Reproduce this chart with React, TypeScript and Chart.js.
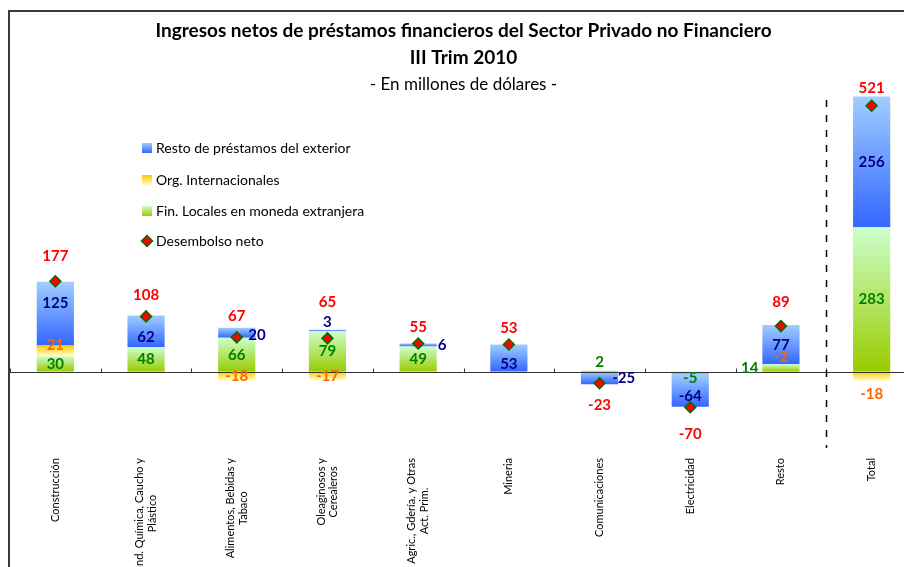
import React, { useEffect, useRef } from "react";
import { Chart, registerables } from "chart.js";

Chart.register(...registerables);

// ---------------- DATA ----------------
const categories: (string | string[])[] = [
  "Construcción",
  ["Ind. Química, Caucho y", "Plástico"],
  ["Alimentos, Bebidas y", "Tabaco"],
  ["Oleaginosos y", "Cerealeros"],
  ["Agric., Gdería. y Otras", "Act. Prim."],
  "Mineria",
  "Comunicaciones",
  "Electricidad",
  "Resto",
  "Total",
];

const finLocales: (number | null)[] = [30, 48, 66, 79, 49, null, 2, -5, 14, 283];
const orgInternacionales: (number | null)[] = [21, -2, -18, -17, null, null, null, null, -2, -18];
const restoExterior: (number | null)[] = [125, 62, 20, 3, 6, 53, -25, -64, 77, 256];
const desembolsoNeto: number[] = [177, 108, 67, 65, 55, 53, -23, -70, 89, 521];

const seriesNames = [
  "Fin. Locales en moneda extranjera",
  "Org. Internacionales",
  "Resto de préstamos del exterior",
  "Desembolso neto",
];

const titleLines = [
  "Ingresos netos de préstamos financieros del Sector Privado no Financiero",
  "III Trim 2010",
];
const subtitleText = "- En millones de dólares -";

// ---------------- STYLE ----------------
const FONT = "Lato, 'Open Sans', sans-serif";
const GRADS: string[][] = [
  ["#ccffcc", "#99cc00"], // green
  ["#ffc800", "#ffffc8"], // yellow
  ["#a0ceff", "#3366ff"], // blue
];
const LABEL_COLORS = ["#008000", "#ff6600", "#000080"];
const NET_COLOR = "#ff0000";

// label placement tweaks (per dataset, per category index)
type Tweak = { pos?: "c" | "t" | "b" | "l" | "r"; dx?: number; dy?: number; hide?: boolean };
const LABEL_TWEAKS: Record<number, Record<number, Tweak>> = {
  0: { 6: { pos: "t" }, 7: { dy: 5 }, 8: { pos: "l" } },
  1: { 0: { dy: -6 }, 1: { hide: true }, 8: { dy: -15 }, 9: { pos: "b" } },
  2: {
    0: { dy: -10 },
    1: { dy: 6 },
    2: { pos: "r", dx: -7, dy: 2 },
    3: { pos: "t" },
    4: { pos: "r", dx: 1 },
    5: { dy: 6 },
    6: { pos: "r", dx: -6 },
    7: { dy: 6 },
  },
};
const NET_OFFSETS = [25, 21, 21, 36, 16, 16, 22, 27, 24, 18];

function makeGrad(ctx: CanvasRenderingContext2D, top: number, bottom: number, stops: string[]) {
  const g = ctx.createLinearGradient(0, top, 0, Math.max(bottom, top + 1));
  g.addColorStop(0, stops[0]);
  g.addColorStop(1, stops[1]);
  return g;
}

const customPlugin = {
  id: "customDecor",
  beforeDraw(chart: any) {
    const ctx: CanvasRenderingContext2D = chart.ctx;
    ctx.save();
    ctx.fillStyle = "#ffffff";
    ctx.fillRect(0, 0, chart.width, chart.height);
    // chart frame (left & top)
    ctx.fillStyle = "#3a3a3a";
    ctx.fillRect(8, 10, 2, chart.height - 10);
    ctx.fillRect(8, 10, chart.width - 8, 2);
    ctx.restore();
  },
  beforeDatasetsDraw(chart: any) {
    const ctx: CanvasRenderingContext2D = chart.ctx;
    for (let d = 0; d < 3; d++) {
      const meta = chart.getDatasetMeta(d);
      meta.data.forEach((el: any) => {
        const top = Math.min(el.y, el.base);
        const bottom = Math.max(el.y, el.base);
        el.options = Object.assign({}, el.options, {
          backgroundColor: makeGrad(ctx, top, bottom, GRADS[d]),
        });
      });
    }
  },
  afterDatasetsDraw(chart: any) {
    const ctx: CanvasRenderingContext2D = chart.ctx;
    const { chartArea } = chart;
    const x = chart.scales.x;
    const y = chart.scales.y;
    const y0 = Math.round(y.getPixelForValue(0)) + 0.5;
    ctx.save();
    // zero axis line
    ctx.strokeStyle = "#333333";
    ctx.lineWidth = 1;
    ctx.beginPath();
    ctx.moveTo(chartArea.left, y0);
    ctx.lineTo(chartArea.right, y0);
    ctx.stroke();
    // tick marks at category boundaries
    const n = categories.length;
    const step = (chartArea.right - chartArea.left) / n;
    ctx.beginPath();
    for (let k = 0; k <= n; k++) {
      const tx = Math.round(chartArea.left + k * step) + 0.5;
      ctx.moveTo(tx, y0 - 4);
      ctx.lineTo(tx, y0);
    }
    ctx.stroke();
    // dashed separator before Total
    const sx = Math.round((x.getPixelForValue(n - 2) + x.getPixelForValue(n - 1)) / 2) + 0.5;
    ctx.strokeStyle = "#000000";
    ctx.lineWidth = 1.5;
    ctx.setLineDash([7, 8]);
    ctx.beginPath();
    ctx.moveTo(sx, chartArea.top + 9);
    ctx.lineTo(sx, chartArea.bottom);
    ctx.stroke();
    ctx.restore();
  },
  afterDraw(chart: any) {
    const ctx: CanvasRenderingContext2D = chart.ctx;
    const { chartArea } = chart;
    const xs = chart.scales.x;
    const cx = (chartArea.left + chartArea.right) / 2;
    ctx.save();
    // titles
    ctx.fillStyle = "#000000";
    ctx.textAlign = "center";
    ctx.textBaseline = "middle";
    ctx.font = `bold 19px ${FONT}`;
    ctx.fillText(titleLines[0], cx, 31);
    ctx.fillText(titleLines[1], cx, 58);
    ctx.font = `17px ${FONT}`;
    ctx.fillText(subtitleText, cx, 85);

    // bar value labels
    ctx.font = `bold 15px ${FONT}`;
    for (let d = 0; d < 3; d++) {
      const meta = chart.getDatasetMeta(d);
      const data = chart.data.datasets[d].data as (number | null)[];
      meta.data.forEach((el: any, i: number) => {
        const v = data[i];
        if (v === null || v === undefined || v === 0) return;
        const tw: Tweak = (LABEL_TWEAKS[d] && LABEL_TWEAKS[d][i]) || {};
        if (tw.hide) return;
        const top = Math.min(el.y, el.base);
        const bottom = Math.max(el.y, el.base);
        const half = el.width / 2;
        let lx = el.x;
        let ly = (top + bottom) / 2;
        ctx.textAlign = "center";
        const pos = tw.pos || "c";
        if (pos === "t") ly = top - 8;
        if (pos === "b") ly = bottom + 13;
        if (pos === "r") {
          ctx.textAlign = "left";
          lx = el.x + half;
        }
        if (pos === "l") {
          ctx.textAlign = "right";
          lx = el.x - half - 4;
        }
        lx += tw.dx || 0;
        ly += tw.dy || 0;
        ctx.fillStyle = LABEL_COLORS[d];
        ctx.fillText(String(v), lx, ly);
      });
    }
    // net labels
    const netMeta = chart.getDatasetMeta(3);
    ctx.textAlign = "center";
    ctx.fillStyle = NET_COLOR;
    netMeta.data.forEach((pt: any, i: number) => {
      const v = desembolsoNeto[i];
      const off = NET_OFFSETS[i];
      ctx.fillText(String(v), pt.x, v >= 0 ? pt.y - off : pt.y + off);
    });

    // category labels (rotated, centered lines)
    ctx.font = `11px ${FONT}`;
    ctx.fillStyle = "#000000";
    const lh = 12.5;
    categories.forEach((c, i) => {
      const lines = Array.isArray(c) ? c : [c];
      const w = Math.max(...lines.map((l) => ctx.measureText(l).width));
      const px = xs.getPixelForValue(i);
      ctx.save();
      ctx.translate(px, chartArea.bottom + 10 + w / 2);
      ctx.rotate(-Math.PI / 2);
      ctx.textAlign = "center";
      ctx.textBaseline = "middle";
      lines.forEach((l, j) => {
        ctx.fillText(l, 0, (j - (lines.length - 1) / 2) * lh);
      });
      ctx.restore();
    });

    // legend
    const legendOrder = [2, 1, 0, 3];
    const lx0 = chartArea.left + 132;
    const rowY = [148, 180, 211, 241];
    ctx.font = `14px ${FONT}`;
    ctx.textAlign = "left";
    ctx.textBaseline = "middle";
    legendOrder.forEach((d, r) => {
      const yy = rowY[r];
      if (d < 3) {
        ctx.fillStyle = makeGrad(ctx, yy - 5, yy + 5, GRADS[d]);
        ctx.fillRect(lx0, yy - 5, 10, 10);
      } else {
        ctx.beginPath();
        ctx.moveTo(lx0 + 5, yy - 5.5);
        ctx.lineTo(lx0 + 10.5, yy);
        ctx.lineTo(lx0 + 5, yy + 5.5);
        ctx.lineTo(lx0 - 0.5, yy);
        ctx.closePath();
        ctx.fillStyle = NET_COLOR;
        ctx.fill();
        ctx.strokeStyle = "#007000";
        ctx.lineWidth = 1.5;
        ctx.stroke();
      }
      ctx.fillStyle = "#000000";
      ctx.fillText(seriesNames[d], lx0 + 14, yy + 0.5);
    });
    ctx.restore();
  },
};

export default function App() {
  const ref = useRef<HTMLCanvasElement>(null);
  useEffect(() => {
    const canvas = ref.current;
    if (!canvas) return;
    const barCommon = { type: "bar" as const, stack: "flows", order: 1, barPercentage: 0.41, categoryPercentage: 1, borderWidth: 0 };
    const chart = new Chart(canvas, {
      type: "bar",
      data: {
        labels: categories as any,
        datasets: [
          { ...barCommon, label: seriesNames[0], data: finLocales, backgroundColor: GRADS[0][1] },
          { ...barCommon, label: seriesNames[1], data: orgInternacionales, backgroundColor: GRADS[1][0] },
          { ...barCommon, label: seriesNames[2], data: restoExterior, backgroundColor: GRADS[2][1] },
          {
            type: "line",
            label: seriesNames[3],
            data: desembolsoNeto,
            showLine: false,
            stack: "net",
            order: 0,
            pointStyle: "rectRot",
            pointRadius: 5.5,
            pointBackgroundColor: NET_COLOR,
            pointBorderColor: "#007000",
            pointBorderWidth: 1.5,
          } as any,
        ],
      },
      options: {
        responsive: false,
        animation: false,
        devicePixelRatio: 1,
        layout: { padding: { left: 10, right: 13, top: 91, bottom: 119 } },
        scales: {
          x: { display: false, stacked: true },
          y: { display: false, stacked: true, min: -150, max: 550 },
        },
        plugins: {
          legend: { display: false },
          title: { display: false },
          tooltip: { enabled: false },
        },
      },
      plugins: [customPlugin as any],
    });
    return () => chart.destroy();
  }, []);
  return (
    <div
      style={{
        position: "absolute",
        left: 0,
        top: 0,
        width: 904,
        height: 567,
        overflow: "hidden",
        background: "#ffffff",
      }}
    >
      <canvas ref={ref} width={930} height={567} style={{ display: "block", width: 930, height: 567 }} />
    </div>
  );
}
